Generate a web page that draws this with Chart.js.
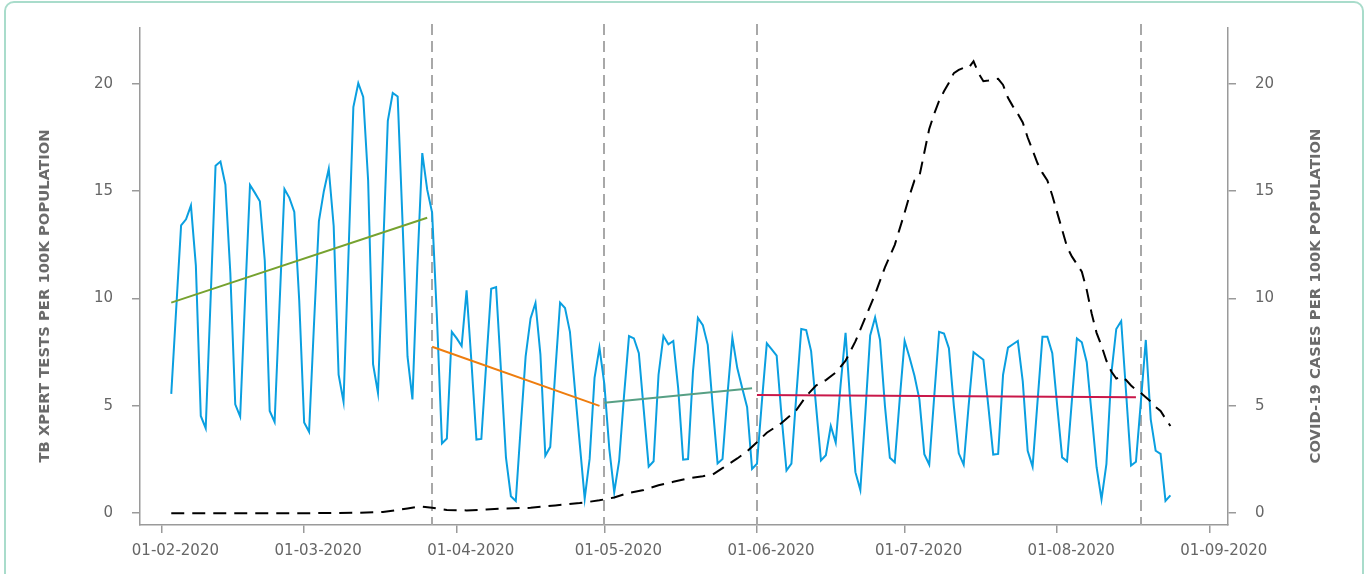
<!DOCTYPE html>
<html>
<head>
<meta charset="utf-8">
<script src="https://cdn.jsdelivr.net/npm/chart.js@4"></script>
<style>
  body { margin: 0; background: #fff; }
  #wrap { position: relative; width: 1371px; height: 574px; overflow: hidden; }
  #frame { position: absolute; left: 4px; top: 1px; width: 1356px; height: 620px; border: 2px solid #a9dccb; border-radius: 10px; }
  canvas { position: absolute; left: 0; top: 0; }
</style>
</head>
<body>
<div id="wrap">
  <div id="frame"></div>
  <canvas id="myChart" width="1371" height="574"></canvas>
</div>
<script>
// x values are days after 01-02-2020
const monthDays = [0, 29, 60, 90, 121, 151, 182, 213];
const monthLabels = ["01-02-2020", "01-03-2020", "01-04-2020", "01-05-2020",
  "01-06-2020", "01-07-2020", "01-08-2020", "01-09-2020"];
const yTicks = [0, 5, 10, 15, 20];

// daily TB Xpert tests per 100k, from 03-02-2020
const testsStartDay = 2;
const testsValues = [
  5.56, 9.5, 13.41, 13.69, 14.33, 11.53, 4.53, 3.96, 10.0, 16.18,
  16.38, 15.3, 11.2, 5.07, 4.5, 10.0, 15.29, 14.92, 14.53, 11.76,
  4.76, 4.25, 9.7, 15.1, 14.69, 14.03, 9.9, 4.22, 3.79, 8.8,
  13.61, 15.0, 16.04, 13.38, 6.45, 5.19, 12.0, 18.92, 20.03, 19.39,
  15.5, 6.94, 5.6, 12.0, 18.28, 19.57, 19.41, 13.5, 7.3, 5.3,
  11.5, 16.77, 15.07, 14.0, 9.0, 3.25, 3.48, 8.45, 8.14, 7.79,
  10.38, 7.0, 3.43, 3.46, 7.0, 10.45, 10.53, 6.6, 2.6, 0.79,
  0.57, 4.0, 7.3, 9.07, 9.79, 7.4, 2.68, 3.09, 6.5, 9.81,
  9.56, 8.45, 5.8, 3.22, 0.68, 2.53, 6.3, 7.71, 6.0, 3.0,
  0.98, 2.45, 5.5, 8.25, 8.14, 7.45, 4.8, 2.17, 2.42, 6.45,
  8.25, 7.87, 8.02, 5.8, 2.49, 2.52, 6.6, 9.1, 8.76, 7.84,
  5.0, 2.32, 2.52, 5.5, 8.18, 6.76, 5.83, 4.94, 2.06, 2.3,
  5.2, 7.91, 7.63, 7.34, 4.5, 1.99, 2.31, 5.5, 8.58, 8.53,
  7.55, 5.0, 2.46, 2.7, 4.06, 3.29, 6.0, 8.4, 5.0, 1.91,
  1.08, 4.6, 8.28, 9.12, 8.07, 5.0, 2.58, 2.37, 5.3, 8.03,
  7.25, 6.4, 5.3, 2.75, 2.26, 5.4, 8.45, 8.37, 7.68, 5.0,
  2.79, 2.26, 5.0, 7.5, 7.32, 7.15, 5.0, 2.73, 2.76, 6.45,
  7.71, 7.87, 8.02, 6.14, 2.91, 2.17, 5.2, 8.22, 8.22, 7.45,
  5.0, 2.6, 2.42, 5.3, 8.14, 7.96, 7.03, 4.6, 2.14, 0.65,
  2.3, 6.5, 8.58, 8.95, 5.6, 2.22, 2.4, 5.2, 8.07, 4.37,
  2.91, 2.76, 0.57, 0.83
];

// COVID-19 cases per 100k (right axis)
const covidDays = [2, 10, 20, 30, 40, 45, 48, 50, 52, 53, 55, 58, 62, 66, 70, 75, 80, 85, 89,
  92, 95, 98, 101, 104, 107, 110, 112, 114, 117, 119, 121, 123, 126, 129, 131, 133, 135, 137,
  139, 141, 143, 145, 147, 149, 151, 152, 153, 154, 155, 156, 157, 158, 159, 160, 161, 162,
  163, 164, 165, 166, 167, 168, 169, 170, 171, 172, 173, 174, 175, 176, 177, 178, 179, 180,
  181, 182, 183, 184, 185, 186, 187, 188, 189, 190, 191, 192, 193, 194, 195, 196, 197, 198,
  199, 200, 201, 202, 203, 204, 205];
const covidCases = [0, 0, 0, 0, 0.02, 0.06, 0.15, 0.22, 0.3, 0.3, 0.25, 0.15, 0.13, 0.17, 0.22,
  0.25, 0.36, 0.47, 0.6, 0.73, 0.95, 1.08, 1.3, 1.46, 1.62, 1.72, 1.8, 2.1, 2.55, 2.88, 3.3,
  3.75, 4.2, 4.8, 5.45, 5.95, 6.2, 6.55, 7.1, 8.0, 9.1, 10.2, 11.45, 12.5, 14.0, 14.8, 15.5,
  15.69, 16.8, 17.9, 18.6, 19.2, 19.65, 20.05, 20.5, 20.65, 20.75, 20.74, 21.05, 20.5, 20.12,
  20.15, 20.2, 20.23, 19.95, 19.35, 18.95, 18.6, 18.2, 17.5, 16.9, 16.3, 15.85, 15.5, 14.8,
  14.0, 13.2, 12.4, 11.95, 11.6, 11.25, 10.4, 9.3, 8.4, 7.8, 7.1, 6.6, 6.27, 6.37, 6.2, 5.95,
  5.75, 5.6, 5.4, 5.2, 4.95, 4.76, 4.4, 4.06];

// linear trends per lockdown phase
const trendStartDays = [2, 55, 90, 121];
const trendEndDays = [54, 89, 120, 198];
const trendStartValues = [9.81, 7.75, 5.14, 5.51];
const trendEndValues = [13.76, 5.0, 5.82, 5.40];
const trendColors = ["#76a22f", "#ee7d0e", "#57a085", "#c9184a"];

// lockdown level changes
const phaseLineDays = [55, 90, 121, 199];

const trendSets = trendStartDays.map((d, i) => ({
  data: [{ x: d, y: trendStartValues[i] }, { x: trendEndDays[i], y: trendEndValues[i] }],
  borderColor: trendColors[i],
  borderWidth: 2,
  pointRadius: 0,
  yAxisID: "y",
  order: 2,
}));

const phaseLines = {
  id: "phaseLines",
  beforeDatasetsDraw(chart) {
    const { ctx, chartArea, scales } = chart;
    ctx.save();
    ctx.strokeStyle = "#a8a8a8";
    ctx.lineWidth = 2;
    ctx.setLineDash([11, 6]);
    phaseLineDays.forEach((d) => {
      const x = Math.round(scales.x.getPixelForValue(d));
      ctx.beginPath();
      ctx.moveTo(x, chartArea.top - 4);
      ctx.lineTo(x, chartArea.bottom);
      ctx.stroke();
    });
    ctx.restore();
  },
};

const axisTitles = {
  id: "axisTitles",
  afterDraw(chart) {
    const { ctx } = chart;
    ctx.save();
    ctx.fillStyle = "#6b6b6b";
    ctx.font = "bold 14.8px 'DejaVu Sans'";
    ctx.textAlign = "center";
    ctx.textBaseline = "middle";
    [[45, "TB XPERT TESTS PER 100K POPULATION"], [1316, "COVID-19 CASES PER 100K POPULATION"]].forEach(([x, t]) => {
      ctx.save();
      ctx.translate(x, 296);
      ctx.rotate(-Math.PI / 2);
      ctx.fillText(t, 0, 0);
      ctx.restore();
    });
    ctx.restore();
  },
};

Chart.defaults.font.family = "'DejaVu Sans'";
Chart.defaults.color = "#666";

const yAxis = (position, width) => ({
  type: "linear",
  position: position,
  min: -0.55,
  max: 22.6,
  afterBuildTicks: (scale) => { scale.ticks = yTicks.map((v) => ({ value: v })); },
  afterFit: (scale) => { scale.width = width; },
  grid: { display: true, drawOnChartArea: false, drawTicks: true, tickLength: 8, color: "#9a9a9a", lineWidth: 1.5 },
  border: { display: true, color: "#9a9a9a", width: 1.5 },
  ticks: { padding: 19, font: { size: 15 }, color: "#666" },
});

const myChart = new Chart(document.getElementById("myChart"), {
  type: "line",
  data: {
    datasets: [
      {
        label: "COVID-19 cases",
        data: covidDays.map((d, i) => ({ x: d, y: covidCases[i] })),
        borderColor: "#000",
        borderWidth: 2,
        borderDash: [13, 8],
        pointRadius: 0,
        yAxisID: "y1",
        order: 1,
      },
      ...trendSets,
      {
        label: "TB Xpert tests",
        data: testsValues.map((v, i) => ({ x: testsStartDay + i, y: v })),
        borderColor: "#0a9fe0",
        borderWidth: 2,
        pointRadius: 0,
        yAxisID: "y",
        order: 3,
      },
    ],
  },
  options: {
    responsive: false,
    animation: false,
    devicePixelRatio: 1,
    layout: { padding: { top: 24, left: 0, right: 0, bottom: 0 } },
    plugins: { legend: { display: false }, tooltip: { enabled: false } },
    scales: {
      x: {
        type: "linear",
        min: -4.35,
        max: 216.7,
        afterBuildTicks: (scale) => { scale.ticks = monthDays.map((v) => ({ value: v })); },
        afterFit: (scale) => { scale.height = 49; },
        grid: { display: true, drawOnChartArea: false, drawTicks: true, tickLength: 8, color: "#9a9a9a", lineWidth: 1.5 },
        border: { display: true, color: "#9a9a9a", width: 1.5 },
        ticks: {
          padding: 9,
          labelOffset: 14,
          maxRotation: 0,
          autoSkip: false,
          font: { size: 15 },
          color: "#666",
          callback: (value) => monthLabels[monthDays.indexOf(value)],
        },
      },
      y: yAxis("left", 140),
      y1: yAxis("right", 143),
    },
  },
  plugins: [phaseLines, axisTitles],
});
</script>
</body>
</html>
